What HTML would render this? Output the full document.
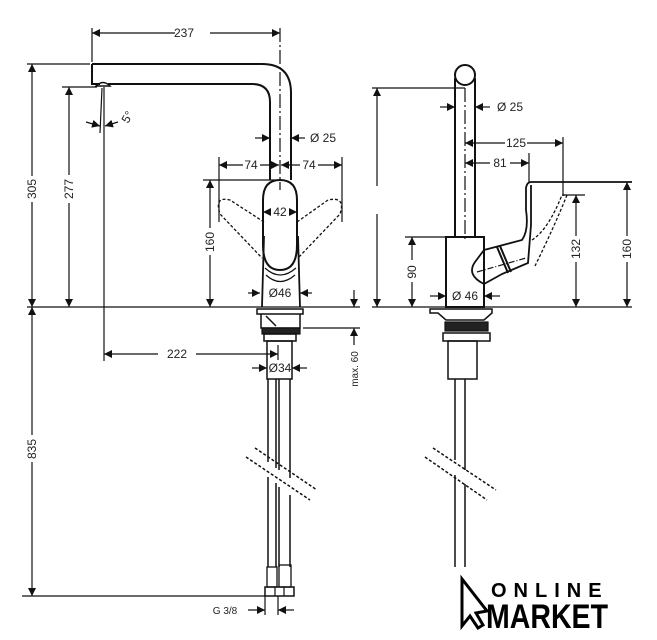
<!DOCTYPE html>
<html><head><meta charset="utf-8"><style>
html,body{margin:0;padding:0;background:#fff;}
svg{display:block;}
text{font-family:"Liberation Sans",sans-serif;font-size:12px;fill:#222;}
</style></head><body>
<svg width="657" height="640" viewBox="0 0 657 640" xmlns="http://www.w3.org/2000/svg">
<defs>
<marker id="a" viewBox="0 0 10 10" refX="10" refY="5" markerWidth="8" markerHeight="8" orient="auto-start-reverse" markerUnits="userSpaceOnUse"><path d="M0,0 L10,5 L0,10 z" fill="#111"/></marker>
</defs>
<g stroke="#111" fill="none" stroke-width="1.2">
<line x1="27" y1="307" x2="360" y2="307"/>
<line x1="372" y1="307" x2="632" y2="307"/>
<path d="M92,64 L262,64 Q291,64 291,93 L291,180" stroke-width="2"/>
<path d="M108,84 L252,84 Q270,84 270,102 L270,180" stroke-width="2"/>
<path d="M92,64 L92,84 L100,84" stroke-width="2"/>
<path d="M96,86 Q103,79 110,86 Z" stroke-width="1.5"/>
<line x1="280" y1="28" x2="280" y2="190" stroke-dasharray="14,3,2,3"/>
<line x1="92" y1="28" x2="92" y2="62"/>
<line x1="92" y1="33" x2="175" y2="33" marker-start="url(#a)"/>
<line x1="210" y1="33" x2="280" y2="33" marker-end="url(#a)"/>
<line x1="27" y1="64" x2="90" y2="64"/>
<line x1="32" y1="64" x2="32" y2="176" marker-start="url(#a)"/>
<line x1="32" y1="202" x2="32" y2="307" marker-end="url(#a)"/>
<line x1="62" y1="87" x2="97" y2="87"/>
<line x1="69" y1="87" x2="69" y2="175" marker-start="url(#a)"/>
<line x1="69" y1="203" x2="69" y2="307" marker-end="url(#a)"/>
<line x1="104" y1="87" x2="104" y2="361"/>
<line x1="102" y1="88" x2="100" y2="133"/>
<line x1="86" y1="122" x2="100" y2="126" marker-end="url(#a)"/>
<line x1="118" y1="122" x2="105" y2="126" marker-end="url(#a)"/>
<line x1="255" y1="138" x2="270" y2="138" marker-end="url(#a)"/>
<line x1="305" y1="138" x2="291" y2="138" marker-end="url(#a)"/>
<line x1="219" y1="157" x2="219" y2="222"/>
<line x1="342" y1="157" x2="342" y2="222"/>
<line x1="219" y1="165" x2="243" y2="165" marker-start="url(#a)"/>
<line x1="260" y1="165" x2="279" y2="165" marker-end="url(#a)"/>
<line x1="281" y1="165" x2="300" y2="165" marker-start="url(#a)"/>
<line x1="318" y1="165" x2="342" y2="165" marker-end="url(#a)"/>
<line x1="203" y1="180" x2="282" y2="180"/>
<line x1="210" y1="180" x2="210" y2="228" marker-start="url(#a)"/>
<line x1="210" y1="255" x2="210" y2="307" marker-end="url(#a)"/>
<path d="M263,245 L263,200 Q263,180 280,180 Q297,180 297,200 L297,245 Q297,270 280,270 Q263,270 263,245 Z" stroke-width="2"/>
<path d="M264,236 L262,307 M298,236 L300,307" stroke-width="1.8"/>
<path d="M265,268 Q280,282 296,268 M266,275 Q280,288 295,275" stroke-width="1.2"/>
<path d="M264,222 L230,200 Q214,196 220,214 L262,258" stroke-dasharray="3,2" stroke-width="1.3"/>
<path d="M297,222 L328,200 Q346,196 340,214 L298,258" stroke-dasharray="3,2" stroke-width="1.3"/>
<line x1="263" y1="212" x2="271" y2="212" marker-start="url(#a)"/>
<line x1="289" y1="212" x2="297" y2="212" marker-end="url(#a)"/>
<line x1="248" y1="293" x2="260" y2="293" marker-end="url(#a)"/>
<line x1="312" y1="293" x2="300" y2="293" marker-end="url(#a)"/>
<rect x="257" y="309" width="46" height="5" stroke-width="1.5"/>
<path d="M261,314 L261,328 L300,328 L300,314" stroke-width="1.5"/>
<line x1="266" y1="316" x2="276" y2="326" stroke-width="1.5"/>
<rect x="262" y="328" width="38" height="6" fill="#222"/>
<rect x="264" y="334" width="32" height="7" stroke-width="1.5"/>
<rect x="267" y="341" width="25" height="38" stroke-width="1.5"/>
<path d="M268,379 L268,462 M276,379 L276,468 M279,379 L279,470 M290,379 L290,478" stroke-width="1.5"/>
<path d="M268,477 L268,567 M276,483 L276,567 M279,487 L279,567 M290,495 L290,567" stroke-width="1.5"/>
<line x1="246" y1="457" x2="310" y2="500" stroke-dasharray="3,2" stroke-width="1.5"/>
<line x1="255" y1="448" x2="317" y2="490" stroke-dasharray="3,2" stroke-width="1.5"/>
<rect x="267" y="567" width="10" height="20" stroke-width="1.3"/>
<rect x="279" y="565" width="12" height="22" stroke-width="1.3"/>
<rect x="265" y="587" width="29" height="9" stroke-width="1.5"/>
<line x1="275" y1="587" x2="275" y2="596"/><line x1="284" y1="587" x2="284" y2="596"/>
<line x1="104" y1="354" x2="158" y2="354" marker-start="url(#a)"/>
<line x1="196" y1="354" x2="278" y2="354" marker-end="url(#a)"/>
<line x1="278" y1="345" x2="278" y2="360"/>
<line x1="252" y1="368" x2="267" y2="368" marker-end="url(#a)"/>
<line x1="307" y1="368" x2="292" y2="368" marker-end="url(#a)"/>
<line x1="303" y1="328" x2="360" y2="328"/>
<line x1="354" y1="290" x2="354" y2="307" marker-end="url(#a)"/>
<line x1="354" y1="345" x2="354" y2="328" marker-end="url(#a)"/>
<line x1="22" y1="596" x2="265" y2="596"/>
<line x1="32" y1="307" x2="32" y2="435" marker-start="url(#a)"/>
<line x1="32" y1="462" x2="32" y2="596" marker-end="url(#a)"/>
<line x1="265" y1="596" x2="265" y2="615"/>
<line x1="278" y1="596" x2="278" y2="615"/>
<line x1="248" y1="610" x2="265" y2="610" marker-end="url(#a)"/>
<line x1="294" y1="610" x2="278" y2="610" marker-end="url(#a)"/>

<circle cx="465" cy="75" r="10" stroke-width="2"/>
<path d="M455,78 L455,237 M475,78 L475,237" stroke-width="2"/>
<line x1="465" y1="88" x2="465" y2="240" stroke-dasharray="14,3,2,3"/>
<line x1="372" y1="88" x2="465" y2="88"/>
<line x1="377" y1="88" x2="377" y2="186" marker-start="url(#a)"/>
<line x1="377" y1="214" x2="377" y2="307" marker-end="url(#a)"/>
<line x1="440" y1="107" x2="455" y2="107" marker-end="url(#a)"/>
<line x1="490" y1="107" x2="475" y2="107" marker-end="url(#a)"/>
<line x1="465" y1="143" x2="505" y2="143" marker-start="url(#a)"/>
<line x1="527" y1="143" x2="563" y2="143" marker-end="url(#a)"/>
<line x1="563" y1="137" x2="563" y2="196"/>
<line x1="465" y1="163" x2="490" y2="163" marker-start="url(#a)"/>
<line x1="510" y1="163" x2="529" y2="163" marker-end="url(#a)"/>
<line x1="529" y1="153" x2="529" y2="182"/>
<rect x="446" y="237" width="38" height="70" stroke-width="2"/>
<line x1="405" y1="237" x2="446" y2="237"/>
<line x1="412" y1="237" x2="412" y2="260" marker-start="url(#a)"/>
<line x1="412" y1="282" x2="412" y2="307" marker-end="url(#a)"/>
<line x1="430" y1="296" x2="446" y2="296" marker-end="url(#a)"/>
<line x1="500" y1="296" x2="484" y2="296" marker-end="url(#a)"/>
<path d="M484,250 L522,240 Q529,230 526,210 L526,188 Q527,182 531,182 L632,182" stroke-width="1.8"/>
<path d="M484,250 L475,262 Q466,275 484,284 L502,274 L528,263 L531,225 L531,185" stroke-width="1.8"/>
<path d="M497,247 L508,273 M500,246 L511,272" stroke-width="2"/>
<line x1="477" y1="272" x2="526" y2="258" stroke-dasharray="6,2,1,2"/>
<path d="M532,240 Q548,230 562,195 L567,195 Q555,225 535,266" stroke-dasharray="3,2" stroke-width="1.3"/>
<line x1="563" y1="195" x2="585" y2="195"/>
<line x1="576" y1="195" x2="576" y2="236" marker-start="url(#a)"/>
<line x1="576" y1="262" x2="576" y2="307" marker-end="url(#a)"/>
<line x1="627" y1="182" x2="627" y2="236" marker-start="url(#a)"/>
<line x1="627" y1="262" x2="627" y2="307" marker-end="url(#a)"/>
<path d="M430,309 L492,309 L492,313 L484,320 L446,320 L438,313 L430,313 Z" stroke-width="1.5"/>
<rect x="445" y="322" width="43" height="9" fill="#222"/>
<rect x="443" y="333" width="47" height="8" stroke-width="1.5"/>
<rect x="448" y="341" width="29" height="38" stroke-width="1.5"/>
<path d="M455,379 L455,460 M465,379 L465,470 M455,475 L455,567 M465,484 L465,567" stroke-width="1.5"/>
<line x1="425" y1="457" x2="487" y2="500" stroke-dasharray="3,2" stroke-width="1.5"/>
<line x1="433" y1="448" x2="496" y2="490" stroke-dasharray="3,2" stroke-width="1.5"/>
</g>
<text x="184" y="37" text-anchor="middle">237</text>
<text transform="translate(36,189) rotate(-90)" text-anchor="middle">305</text>
<text transform="translate(73,189) rotate(-90)" text-anchor="middle">277</text>
<text transform="translate(128,124) rotate(-60)">5°</text>
<text x="310" y="142">Ø  25</text>
<text x="251" y="169" text-anchor="middle">74</text>
<text x="309" y="169" text-anchor="middle">74</text>
<text transform="translate(214,242) rotate(-90)" text-anchor="middle">160</text>
<text x="280" y="216" text-anchor="middle">42</text>
<text x="280" y="297" text-anchor="middle">Ø46</text>
<text x="177" y="358" text-anchor="middle">222</text>
<text x="280" y="372" text-anchor="middle">Ø34</text>
<text transform="translate(358,369) rotate(-90)" text-anchor="middle" style="font-size:10px">max. 60</text>
<text transform="translate(36,449) rotate(-90)" text-anchor="middle">835</text>
<text x="225" y="614" text-anchor="middle" style="font-size:10px">G 3/8</text>
<text x="497" y="111">Ø  25</text>
<text x="516" y="147" text-anchor="middle">125</text>
<text x="500" y="167" text-anchor="middle">81</text>
<text transform="translate(416,272) rotate(-90)" text-anchor="middle">90</text>
<text x="465" y="300" text-anchor="middle">Ø  46</text>
<text transform="translate(580,249) rotate(-90)" text-anchor="middle">132</text>
<text transform="translate(631,249) rotate(-90)" text-anchor="middle">160</text>
<path d="M462,579 L462,626 L470,616 L478,628 L483,625 L476,613 L487,611 Z" fill="#fff" stroke="#000" stroke-width="3"/>
<text x="491" y="597" style="font-size:20px;font-weight:bold;letter-spacing:7px;fill:#000">ONLINE</text>
<text x="486" y="628" textLength="122" lengthAdjust="spacingAndGlyphs" style="font-size:34px;font-weight:bold;fill:#000">MARKET</text>
</svg>
</body></html>
